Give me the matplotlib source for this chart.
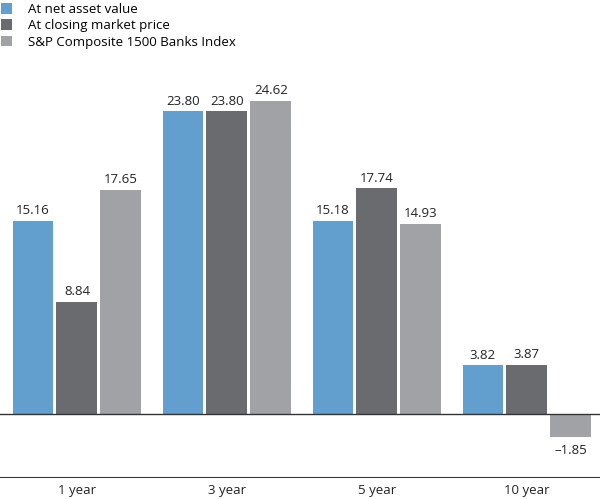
import numpy as np
import matplotlib.pyplot as plt

plt.rcParams['font.family'] = ['Liberation Sans Narrow', 'Open Sans', 'DejaVu Sans']

periods = ['1 year', '3 year', '5 year', '10 year']
series = ['At net asset value', 'At closing market price', 'S&P Composite 1500 Banks Index']
nav = [15.16, 23.80, 15.18, 3.82]
market = [8.84, 23.80, 17.74, 3.87]
index = [17.65, 24.62, 14.93, -1.85]
colors = ['#629ece', '#6a6b6f', '#a1a2a6']

fig = plt.figure(figsize=(6, 4.99), dpi=100)
ax = fig.add_axes([0, 21 / 499, 1, 478 / 499])

x = np.arange(len(periods))
step = 0.293
width = 0.273
handles = []
for i, (vals, c) in enumerate(zip([nav, market, index], colors)):
    pos = x + (i - 1) * step
    b = ax.bar(pos, vals, width, color=c, label=series[i])
    handles.append(b)
    for p, v in zip(pos, vals):
        if v >= 0:
            ax.text(p, v + 0.3, f'{v:.2f}', ha='center', va='bottom', fontsize=9.5, color='#222222')
        else:
            ax.text(p, v - 0.5, '\u2013' + f'{abs(v):.2f}', ha='center', va='top', fontsize=9.5, color='#222222')

ax.set_xlim(-0.513, 3.487)
ax.set_ylim(-5.04, 32.57)
ax.axhline(0, color='#333333', lw=1)
ax.axhline(-5.04, color='#333333', lw=1.5)
for s in ax.spines.values():
    s.set_visible(False)
ax.set_xticks([])
ax.set_yticks([])
for xi, lab in zip(x, periods):
    ax.text(xi, -5.04 - 0.45, lab, ha='center', va='top', fontsize=9.5, color='#222222')

fig.legend(handles=handles, labels=series, loc='upper left', bbox_to_anchor=(-0.012, 1.01),
           frameon=False, fontsize=9.5, handlelength=0.85, handleheight=0.85,
           handletextpad=1.2, labelspacing=0.25, borderaxespad=0.2)

fig.savefig('out.png', dpi=100)
